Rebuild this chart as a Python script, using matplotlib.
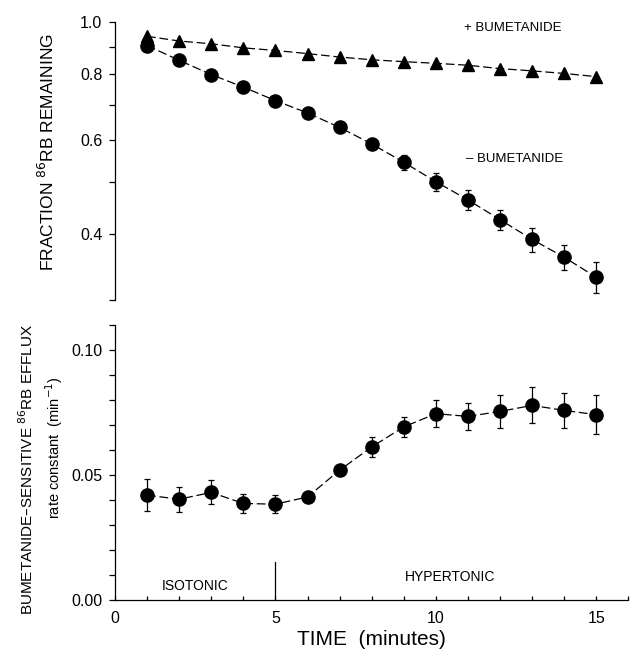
import matplotlib
matplotlib.use('Agg')
import matplotlib.pyplot as plt
from matplotlib.ticker import FixedLocator, FixedFormatter, NullFormatter, MultipleLocator

plt.rcParams['font.family'] = ['Liberation Sans', 'DejaVu Sans']

# data
time = [1, 2, 3, 4, 5, 6, 7, 8, 9, 10, 11, 12, 13, 14, 15]
frac_plus = [0.941, 0.922, 0.911, 0.895, 0.885, 0.873, 0.860, 0.850, 0.843,
             0.837, 0.830, 0.818, 0.810, 0.801, 0.790]
frac_minus = [0.904, 0.848, 0.797, 0.755, 0.712, 0.675, 0.634, 0.590, 0.545,
              0.501, 0.463, 0.425, 0.390, 0.361, 0.331]
frac_minus_err = [0.005, 0.006, 0.006, 0.007, 0.008, 0.008, 0.010, 0.012, 0.018,
                  0.020, 0.020, 0.019, 0.020, 0.020, 0.022]
rate = [0.0419, 0.0403, 0.0430, 0.0386, 0.0383, 0.0412, 0.0519, 0.0612, 0.0692,
        0.0745, 0.0734, 0.0754, 0.0778, 0.0758, 0.0741]
rate_err = [0.0063, 0.0050, 0.0048, 0.0039, 0.0037, 0.0020, 0.0020, 0.0039, 0.0041,
            0.0055, 0.0053, 0.0066, 0.0072, 0.0071, 0.0079]

fig = plt.figure(figsize=(6.3, 6.55), dpi=100)
ax1 = fig.add_axes([0.1825, 0.542, 0.815, 0.424])
ax2 = fig.add_axes([0.1825, 0.084, 0.815, 0.42])

dash = (0, (7, 3))

# top panel: fraction remaining (log scale)
ax1.plot(time, frac_plus, color='black', linewidth=0.9, linestyle=dash,
         marker='^', markersize=8, zorder=3)
ax1.errorbar(time, frac_minus, yerr=frac_minus_err, color='black', linewidth=0.9,
             linestyle=dash, marker='o', markersize=9.5, capsize=2.5,
             elinewidth=0.9, capthick=0.9, zorder=3)
ax1.set_yscale('log')
ax1.set_ylim(0.3, 1.0)
ax1.set_xlim(0, 16)
ax1.yaxis.set_major_locator(FixedLocator([0.4, 0.6, 0.8, 1.0]))
ax1.yaxis.set_minor_locator(FixedLocator([0.3, 0.5, 0.7, 0.9]))
ax1.yaxis.set_major_formatter(FixedFormatter(['0.4', '0.6', '0.8', '1.0']))
ax1.yaxis.set_minor_formatter(NullFormatter())
ax1.tick_params(axis='y', which='both', direction='out', length=4, width=0.9,
                labelsize=11.5, pad=5)
ax1.tick_params(axis='x', which='both', bottom=False, labelbottom=False)
for s in ['top', 'right', 'bottom']:
    ax1.spines[s].set_visible(False)
ax1.spines['left'].set_linewidth(0.9)
ax1.text(-0.132, 0.534, 'FRACTION $^{86}$RB REMAINING', fontsize=12.5, rotation=90,
         ha='center', va='center', transform=ax1.transAxes)
ax1.text(10.87, 0.975, '+ BUMETANIDE', fontsize=9.5, ha='left', va='center')
ax1.text(10.93, 0.553, '\u2013 BUMETANIDE', fontsize=9.5, ha='left', va='center')

# bottom panel: rate constant
ax2.errorbar(time, rate, yerr=rate_err, color='black', linewidth=0.9,
             linestyle=dash, marker='o', markersize=9.5, capsize=2.5,
             elinewidth=0.9, capthick=0.9, zorder=3)
ax2.set_xlim(0, 16)
ax2.set_ylim(0, 0.11)
ax2.yaxis.set_major_locator(FixedLocator([0.0, 0.05, 0.10]))
ax2.yaxis.set_major_formatter(FixedFormatter(['0.00', '0.05', '0.10']))
ax2.yaxis.set_minor_locator(MultipleLocator(0.01))
ax2.xaxis.set_major_locator(FixedLocator([0, 5, 10, 15]))
ax2.xaxis.set_minor_locator(MultipleLocator(1))
ax2.tick_params(axis='y', which='both', direction='out', length=4, width=0.9,
                labelsize=11.5, pad=5)
ax2.tick_params(axis='x', which='both', direction='in', length=3, width=0.9,
                labelsize=11.5, pad=8)
for s in ['top', 'right']:
    ax2.spines[s].set_visible(False)
ax2.spines['left'].set_linewidth(0.9)
ax2.spines['bottom'].set_linewidth(0.9)
ax2.axvline(5, ymin=0, ymax=0.0153 / 0.11, color='black', linewidth=0.9)
ax2.text(2.5, 0.0055, 'ISOTONIC', fontsize=10, ha='center', va='center')
ax2.text(10.45, 0.0093, 'HYPERTONIC', fontsize=10, ha='center', va='center')
ax2.text(-0.172, 0.473, 'BUMETANIDE\u2013SENSITIVE $^{86}$RB EFFLUX', fontsize=11,
         rotation=90, ha='center', va='center', transform=ax2.transAxes)
ax2.text(-0.118, 0.553, 'rate constant  (min$^{-1}$)', fontsize=10.5,
         rotation=90, ha='center', va='center', transform=ax2.transAxes)
ax2.set_xlabel('TIME  (minutes)', fontsize=15, labelpad=3)

fig.savefig('out.png', dpi=100)
